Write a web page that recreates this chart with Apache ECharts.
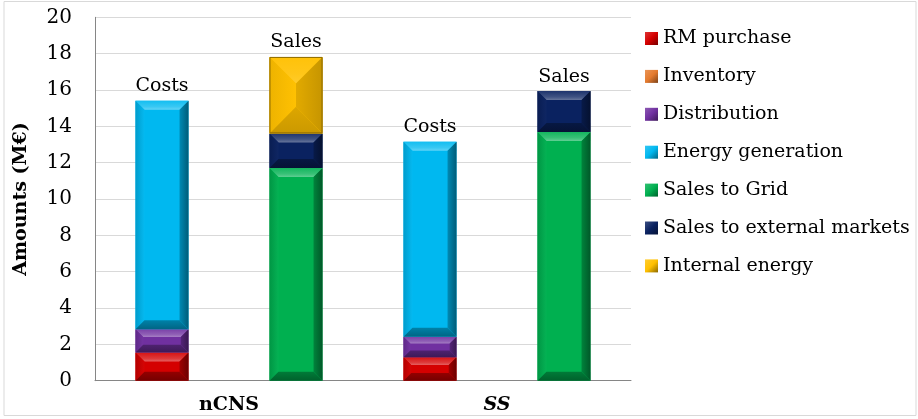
<!DOCTYPE html>
<html>
<head>
<meta charset="utf-8">
<script src="https://cdn.jsdelivr.net/npm/echarts@6/dist/echarts.min.js"></script>
<style>
  html, body { margin: 0; padding: 0; background: #fff; }
  #chart { width: 918px; height: 419px; }
</style>
</head>
<body>
<div id="chart"></div>
<script>
// Cost / sales breakdown (M€) for the two scenarios
const groups = ['nCNS', 'SS'];
const barNames = ['Costs', 'Sales', 'Costs', 'Sales'];
const seriesNames = ['RM purchase', 'Inventory', 'Distribution', 'Energy generation',
  'Sales to Grid', 'Sales to external markets', 'Internal energy'];
const rmPurchase        = [1.55, 0, 1.29, 0];
const inventory         = [0, 0, 0, 0];
const distribution      = [1.28, 0, 1.13, 0];
const energyGeneration  = [12.58, 0, 10.73, 0];
const salesToGrid       = [0, 11.70, 0, 13.69];
const salesExternal     = [0, 1.91, 0, 2.25];
const internalEnergy    = [0, 4.21, 0, 0];
const yTicks = { min: 0, max: 20, interval: 2 };

const values = [rmPurchase, inventory, distribution, energyGeneration,
  salesToGrid, salesExternal, internalEnergy];
const baseColors = ['#d40000', '#e47a2e', '#7030a0', '#00b8f0', '#00b050', '#0a2260', '#ffc000'];
// bevel depth in px per series (internal energy uses a deep, soft pyramid bevel)
const bevelDepth = [9, 9, 9, 9, 9, 9, 40];
const bevelContrast = [1, 1, 1, 1, 1, 1, 0.45];

const FONT = '"DejaVu Serif", serif';

function hexToRgb(h) {
  const n = parseInt(h.slice(1), 16);
  return [(n >> 16) & 255, (n >> 8) & 255, n & 255];
}
function shade(h, f) {
  // f > 0 lightens towards white, f < 0 darkens towards black
  const c = hexToRgb(h).map(v => f >= 0 ? v + (255 - v) * f : v * (1 + f));
  return 'rgb(' + c.map(v => Math.round(v)).join(',') + ')';
}

// stacked extents per segment: [category, base, top]
const cumulative = [0, 0, 0, 0];
const segData = values.map(arr => arr.map((v, i) => {
  const b = cumulative[i];
  cumulative[i] += v;
  return [i, b, b + v];
}));
const totals = cumulative.slice();

function bevelItem(idx) {
  const base = baseColors[idx];
  const k = bevelContrast[idx];
  const s = f => shade(base, f * k);
  const G = echarts.graphic;
  return function (params, api) {
    const x = api.value(0), b = api.value(1), t = api.value(2);
    if (t - b <= 0) return null;
    const p0 = api.coord([x, b]);
    const p1 = api.coord([x, t]);
    const w = api.size([1, 0])[0] * 0.396;
    const l = p0[0] - w / 2, r = p0[0] + w / 2;
    const yt = p1[1], yb = p0[1];
    const h = yb - yt;
    const deep = bevelDepth[idx] > 20;
    const d = deep ? w / 2 : Math.min(bevelDepth[idx], h / 3, w / 4);
    const dv = deep ? Math.min(w / 2, h / 2) : d;
    const children = [
      { type: 'rect', shape: { x: l, y: yt, width: w, height: h },
        style: { fill: base } },
      { type: 'polygon', shape: { points: [[l, yt], [r, yt], [r - d, yt + dv], [l + d, yt + dv]] },
        style: { fill: new G.LinearGradient(0, 0, 0, 1, [
          { offset: 0, color: s(0.08) },
          { offset: 0.65, color: s(0.22) },
          { offset: 1, color: s(0.38) }]) } },
      { type: 'polygon', shape: { points: [[l, yt], [l + d, yt + dv], [l + d, yb - dv], [l, yb]] },
        style: { fill: new G.LinearGradient(0, 0, 1, 0, [
          { offset: 0, color: s(-0.15) },
          { offset: 1, color: s(0.02) }]) } },
      { type: 'polygon', shape: { points: [[r, yt], [r, yb], [r - d, yb - dv], [r - d, yt + dv]] },
        style: { fill: new G.LinearGradient(0, 0, 1, 0, [
          { offset: 0, color: s(-0.25) },
          { offset: 1, color: s(-0.5) }]) } },
      { type: 'polygon', shape: { points: [[l, yb], [r, yb], [r - d, yb - dv], [l + d, yb - dv]] },
        style: { fill: new G.LinearGradient(0, 0, 0, 1, [
          { offset: 0, color: s(-0.3) },
          { offset: 1, color: s(-0.45) }]) } }
    ];
    if (deep) {
      children.push({ type: 'rect', shape: { x: l + 0.5, y: yt + 0.5, width: w - 1, height: h - 1 },
        style: { fill: 'none', stroke: shade(base, -0.45), lineWidth: 1 } });
    }
    return { type: 'group', children: children };
  };
}

const series = seriesNames.map((name, i) => ({
  name: name,
  type: 'custom',
  xAxisIndex: 0,
  yAxisIndex: 0,
  renderItem: bevelItem(i),
  encode: { x: 0, y: [1, 2] },
  itemStyle: {
    color: new echarts.graphic.LinearGradient(0, 0, 1, 1, [
      { offset: 0, color: shade(baseColors[i], 0.2) },
      { offset: 0.5, color: baseColors[i] },
      { offset: 1, color: shade(baseColors[i], -0.45) }])
  },
  data: segData[i]
}));

// "Costs" / "Sales" captions above each stack
series.push({
  name: 'captions',
  type: 'custom',
  xAxisIndex: 0,
  yAxisIndex: 0,
  silent: true,
  renderItem: function (params, api) {
    const p = api.coord([api.value(0), api.value(1)]);
    return {
      type: 'text',
      style: {
        text: barNames[params.dataIndex],
        x: p[0], y: p[1] - 5,
        align: 'center', verticalAlign: 'bottom',
        fontSize: 19, fontFamily: FONT, fill: '#000'
      }
    };
  },
  data: totals.map((t, i) => [i, t])
});

const chart = echarts.init(document.getElementById('chart'), null, { renderer: 'canvas' });
chart.setOption({
  animation: false,
  backgroundColor: '#fff',
  textStyle: { fontFamily: FONT },
  graphic: [{
    type: 'rect', shape: { x: 4, y: 1.5, width: 912, height: 414 },
    style: { fill: 'none', stroke: '#d9d9d9', lineWidth: 1 }, silent: true, z: -10
  }],
  grid: { left: 95, right: 287, top: 17.3, bottom: 38.3, containLabel: false },
  legend: {
    data: seriesNames,
    orient: 'vertical',
    left: 640, top: 23.5,
    icon: 'rect',
    itemWidth: 13, itemHeight: 13,
    itemGap: 17.9,
    textStyle: { fontSize: 19, fontFamily: FONT, color: '#000', lineHeight: 20 },
    selectedMode: false
  },
  xAxis: [{
    type: 'category',
    data: barNames,
    axisLine: { lineStyle: { color: '#868686', width: 1 } },
    axisTick: { show: false },
    axisLabel: { show: false },
    splitLine: { show: false }
  }, {
    type: 'category',
    position: 'bottom',
    data: [groups[0], { value: groups[1], textStyle: { fontStyle: 'italic' } }],
    axisLine: { show: false },
    axisTick: { show: false },
    axisLabel: { margin: 15, fontSize: 19, fontWeight: 'bold', fontFamily: FONT, color: '#000' }
  }],
  yAxis: {
    type: 'value',
    min: yTicks.min, max: yTicks.max, interval: yTicks.interval,
    name: 'Amounts (M€)',
    nameLocation: 'middle',
    nameGap: 64,
    nameTextStyle: { fontSize: 19, fontWeight: 'bold', fontFamily: FONT, color: '#000' },
    axisLine: { show: true, lineStyle: { color: '#868686' } },
    axisTick: { show: false },
    axisLabel: { margin: 23, fontSize: 20, fontFamily: FONT, color: '#000' },
    splitLine: { lineStyle: { color: '#d9d9d9', width: 1 } }
  },
  series: series
});
</script>
</body>
</html>
